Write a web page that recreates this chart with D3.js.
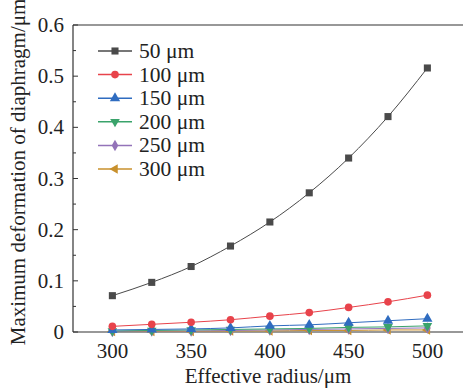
<!DOCTYPE html>
<html>
<head>
<meta charset="utf-8">
<script src="https://cdn.jsdelivr.net/npm/d3@7"></script>
<style>
  body { margin: 0; background: #fff; }
</style>
</head>
<body>
<div id="chart"></div>
<script>
const radii = [300, 325, 350, 375, 400, 425, 450, 475, 500];
const seriesNames = ['50 μm', '100 μm', '150 μm', '200 μm', '250 μm', '300 μm'];
const s50 = [0.071, 0.097, 0.128, 0.168, 0.215, 0.272, 0.340, 0.421, 0.516];
const s100 = [0.011, 0.015, 0.019, 0.024, 0.031, 0.038, 0.048, 0.059, 0.072];
const s150 = [0.004, 0.005, 0.006, 0.008, 0.012, 0.014, 0.018, 0.022, 0.026];
const s200 = [0.002, 0.003, 0.004, 0.005, 0.006, 0.007, 0.009, 0.010, 0.012];
const s250 = [0.001, 0.002, 0.002, 0.003, 0.004, 0.005, 0.006, 0.007, 0.008];
const s300 = [0.001, 0.001, 0.001, 0.002, 0.002, 0.003, 0.003, 0.004, 0.004];
const yTicks = [0, 0.1, 0.2, 0.3, 0.4, 0.5, 0.6];
const xTicks = [300, 350, 400, 450, 500];

const colors = ['#4a4a4a', '#e8434b', '#2f6cc0', '#3aa36b', '#9373b9', '#c8902c'];
const symbols = [d3.symbolSquare, d3.symbolCircle, d3.symbolTriangle, 'down', d3.symbolDiamond, 'left'];
const allSeries = [s50, s100, s150, s200, s250, s300];

const W = 463, H = 389;
const svg = d3.select('#chart').append('svg').attr('width', W).attr('height', H)
  .attr('font-family', '"Liberation Serif", "Times New Roman", Times, serif')
  .attr('fill', '#222');

const x = d3.scaleLinear([275, 525], [73, 466.75]);
const y = d3.scaleLinear([0, 0.6], [332, 25]);

// frame: left, bottom, top
svg.append('line').attr('x1', x(275)).attr('x2', x(275)).attr('y1', y(0)).attr('y2', y(0.6))
  .attr('stroke', '#333').attr('stroke-width', 1.2);
svg.append('line').attr('x1', x(275)).attr('x2', W).attr('y1', y(0)).attr('y2', y(0))
  .attr('stroke', '#333').attr('stroke-width', 1.2);
svg.append('line').attr('x1', x(275)).attr('x2', W).attr('y1', y(0.6)).attr('y2', y(0.6))
  .attr('stroke', '#333').attr('stroke-width', 1.2);

// y ticks (inward) with minor
d3.range(0, 0.6001, 0.05).forEach((v, i) => {
  svg.append('line').attr('x1', x(275)).attr('x2', x(275) + (i % 2 ? 3 : 5))
    .attr('y1', y(v)).attr('y2', y(v)).attr('stroke', '#333');
});
svg.selectAll('.ylab').data(yTicks).join('text')
  .attr('class', 'ylab')
  .attr('x', 64).attr('y', d => y(d))
  .attr('text-anchor', 'end').attr('dominant-baseline', 'central')
  .attr('font-size', 21)
  .text(d => d === 0 ? '0' : d3.format('.1f')(d));

svg.selectAll('.xlab').data(xTicks).join('text')
  .attr('class', 'xlab')
  .attr('x', d => x(d)).attr('y', 358)
  .attr('text-anchor', 'middle')
  .attr('font-size', 21)
  .text(d => d);

svg.append('text').attr('x', 268).attr('y', 383).attr('text-anchor', 'middle')
  .attr('font-size', 21).text('Effective radius/μm');
svg.append('text').attr('transform', 'translate(25,172) rotate(-90)').attr('text-anchor', 'middle')
  .attr('font-size', 21).text('Maximum deformation of diaphragm/μm');

function marker(g, sym, cx, cy, color) {
  if (sym === 'down' || sym === 'left') {
    const rot = sym === 'down' ? 180 : -90;
    g.append('path').attr('d', d3.symbol(d3.symbolTriangle, 40)())
      .attr('transform', `translate(${cx},${cy}) rotate(${rot})`).attr('fill', color);
  } else {
    const size = sym === d3.symbolSquare ? 50 : sym === d3.symbolCircle ? 46 : sym === d3.symbolDiamond ? 38 : 46;
    g.append('path').attr('d', d3.symbol(sym, size)())
      .attr('transform', `translate(${cx},${cy})`).attr('fill', color);
  }
}

const line = d3.line().x((d, i) => x(radii[i])).y(d => y(d)).curve(d3.curveMonotoneX);

// draw from thinnest to thickest so 50 μm is on top
for (let k = allSeries.length - 1; k >= 0; k--) {
  const g = svg.append('g');
  g.append('path').attr('d', line(allSeries[k])).attr('fill', 'none')
    .attr('stroke', colors[k]).attr('stroke-width', 1);
  allSeries[k].forEach((v, i) => marker(g, symbols[k], x(radii[i]), y(v), colors[k]));
}

// legend
const legend = svg.append('g');
seriesNames.forEach((name, k) => {
  const ly = 51 + k * 23.6;
  legend.append('line').attr('x1', 98).attr('x2', 132).attr('y1', ly).attr('y2', ly)
    .attr('stroke', colors[k]).attr('stroke-width', 1.5);
  marker(legend, symbols[k], 115, ly, colors[k]);
  legend.append('text').attr('x', 139).attr('y', ly).attr('dominant-baseline', 'central')
    .attr('font-size', 21.5).text(name);
});
</script>
</body>
</html>
